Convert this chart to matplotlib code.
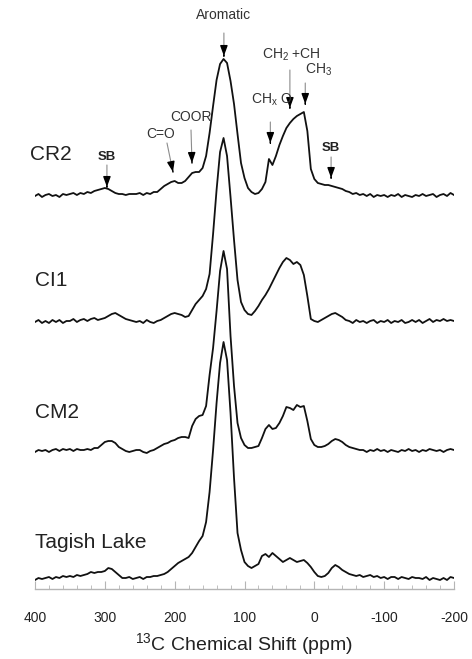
import numpy as np
import matplotlib
matplotlib.use('Agg')
import matplotlib.pyplot as plt

plt.rcParams['font.family'] = ['Liberation Sans', 'DejaVu Sans']
plt.rcParams['mathtext.fontset'] = 'custom'
plt.rcParams['mathtext.rm'] = 'Liberation Sans'
plt.rcParams['mathtext.it'] = 'Liberation Sans:italic'
plt.rcParams['axes.unicode_minus'] = False

# chemical shift grid, 400 -> -200 ppm in 5 ppm steps
ppm = np.arange(400, -201, -5)

# signal heights above each trace's own baseline
cr2 = [0, 2, -1, 1, 2, 0, 1, -1, 2, 1,
       2, 3, 1, 3, 2, 4, 3, 5, 6, 7,
       8, 7, 5, 3, 2, 2, 1, 2, 2, 2,
       3, 1, 3, 2, 4, 4, 7, 10, 12, 14,
       15, 13, 13, 15, 19, 23, 24, 24, 28, 40,
       63, 90, 116, 132, 137, 133, 115, 92, 62, 33,
       18, 8, 4, 2, 3, 7, 14, 37, 31, 40,
       51, 60, 68, 73, 77, 80, 82, 84, 65, 27,
       17, 13, 12, 11, 11, 10, 9, 8, 7, 5,
       4, 2, 3, 1, 2, 0, 2, -1, 1, 0,
       1, -1, 1, 0, 2, -1, 1, 0, -1, 1,
       0, 2, 0, 1, 2, -1, 1, 2, 0, 3,
       1]
ci1 = [0, 2, -1, 1, -1, 2, 0, 2, -1, 1,
       1, 3, 0, 2, 3, 1, 3, 4, 2, 3,
       4, 6, 8, 9, 7, 5, 3, 2, 1, 0,
       1, -1, 2, 0, -1, 1, 2, 4, 6, 8,
       9, 8, 7, 5, 6, 12, 18, 22, 26, 33,
       48, 88, 132, 170, 184, 166, 125, 82, 42, 20,
       12, 8, 7, 11, 16, 22, 27, 33, 40, 47,
       54, 60, 64, 62, 58, 60, 57, 47, 26, 3,
       1, 0, 2, 4, 6, 8, 9, 7, 5, 2,
       1, -1, 2, 0, 1, -1, 1, 2, -1, 1,
       0, 2, -1, 1, 0, 2, -1, 0, 2, 0,
       2, -1, 1, 3, 0, 2, 1, 3, 1, 2,
       1]
cm2 = [-1, 1, 0, 1, -1, 1, 2, 0, 2, 1,
       2, 0, 2, 1, 1, 2, 1, 3, 3, 6,
       9, 10, 10, 8, 4, 2, 0, -1, 0, 1,
       1, -1, -2, 0, 1, 3, 5, 7, 8, 10,
       11, 13, 14, 14, 13, 25, 32, 35, 36, 45,
       76, 103, 140, 180, 200, 182, 115, 65, 28, 13,
       6, 3, 3, 4, 5, 13, 22, 26, 22, 23,
       28, 35, 44, 43, 41, 46, 44, 45, 30, 12,
       6, 4, 4, 5, 7, 10, 12, 11, 9, 6,
       4, 3, 2, 1, 1, -1, 1, 0, 2, 0,
       1, -1, 1, 0, -1, 1, 0, 2, 0, 1,
       -1, 1, 0, 2, 1, 0, 1, -1, 1, 2,
       1]
tagish = [-2, 0, -1, 0, 1, -1, 1, 0, 2, 1,
          2, 1, 3, 2, 3, 4, 6, 5, 6, 6,
          7, 10, 9, 6, 3, 0, 0, 1, -1, 0,
          1, -1, 1, 1, 2, 2, 3, 4, 6, 9,
          12, 15, 17, 19, 21, 25, 31, 37, 42, 56,
          86, 128, 175, 215, 236, 218, 165, 100, 45, 28,
          16, 12, 10, 12, 14, 22, 24, 21, 25, 22,
          19, 16, 18, 20, 18, 16, 17, 18, 15, 11,
          6, 2, 1, 2, 5, 10, 13, 11, 8, 6,
          4, 3, 2, 3, 1, 2, 3, 1, 2, 0,
          1, -1, 1, 1, -1, 1, 0, -1, 1, 0,
          0, -1, 1, -2, 0, -1, -2, 0, -2, 1,
          0]

names = ['CR2', 'CI1', 'CM2', 'Tagish Lake']
spectra = [cr2, ci1, cm2, tagish]

# vertical stacking of the traces
baselines = [393, 267, 138, 11]
name_y = [434, 309, 176, 47]

fig = plt.figure(figsize=(4.72, 6.59), dpi=100)
ax = fig.add_axes([35 / 472, 70 / 659, 419 / 472, 589 / 659])

for spec, base in zip(spectra, baselines):
    ax.plot(ppm, np.array(spec) + base, color='#111111', lw=1.3)

for name, y in zip(names, name_y):
    ax.text(407 if name == 'CR2' else 400, y, name, fontsize=15,
            color='#222222', va='center', ha='left')


def pointer(tail, tip, head=8):
    # thin grey stem finished by a small black arrowhead
    ax.annotate('', xy=tip, xytext=tail,
                arrowprops=dict(arrowstyle='-', color='0.55', lw=0.8,
                                shrinkA=0, shrinkB=0))
    p0 = ax.transData.transform(tail)
    p1 = ax.transData.transform(tip)
    d = p0 - p1
    start = p1 + d * head / np.hypot(*d)
    start = ax.transData.inverted().transform(start)
    ax.annotate('', xy=tip, xytext=start,
                arrowprops=dict(arrowstyle='-|>,head_length=0.6,head_width=0.22',
                                color='black', lw=1, shrinkA=0, shrinkB=0))


small = dict(fontsize=10, color='#333333', va='center')
ax.text(129.5, 574, 'Aromatic', ha='center', **small)
pointer((129.5, 556), (129.5, 533))

ax.text(75, 534, r'CH$_2$ +CH', ha='left', **small)
pointer((35, 519), (35, 481))

ax.text(13, 519, r'CH$_3$', ha='left', **small)
pointer((13, 506), (13, 485))

ax.text(90, 489, r'CH$_\mathrm{x}$ O', ha='left', **small)
pointer((63, 467), (63, 446))

ax.text(207, 472, 'COOR', ha='left', **small)
pointer((176.6, 459), (175.2, 426))

ax.text(240, 455, 'C=O', ha='left', **small)
pointer((211, 446), (202.4, 417))

sb = dict(fontsize=9.5, fontweight='bold', color='#222222', ha='center', va='center')
ax.text(297, 432, 'SB', **sb)
pointer((297, 424), (297, 402))
ax.text(-24, 441, 'SB', **sb)
pointer((-24, 432), (-24, 411))

ax.set_xlim(400, -200)
ax.set_ylim(0, 589)
for side in ['top', 'left', 'right']:
    ax.spines[side].set_visible(False)
ax.spines['bottom'].set_color('#b5b5b5')
ax.spines['bottom'].set_linewidth(1)
ax.set_yticks([])
ax.set_xticks(np.arange(400, -201, -100))
ax.set_xticks(np.arange(400, -201, -20), minor=True)
ax.tick_params(axis='x', which='major', direction='in', length=6,
               color='#b5b5b5', labelsize=10, labelcolor='#222222', pad=16)
ax.tick_params(axis='x', which='minor', direction='in', length=3,
               color='#b5b5b5')
ax.set_xlabel(r'$^{13}$C Chemical Shift (ppm)', fontsize=14,
              color='#222222', labelpad=4)

fig.savefig('out.png', dpi=100)
